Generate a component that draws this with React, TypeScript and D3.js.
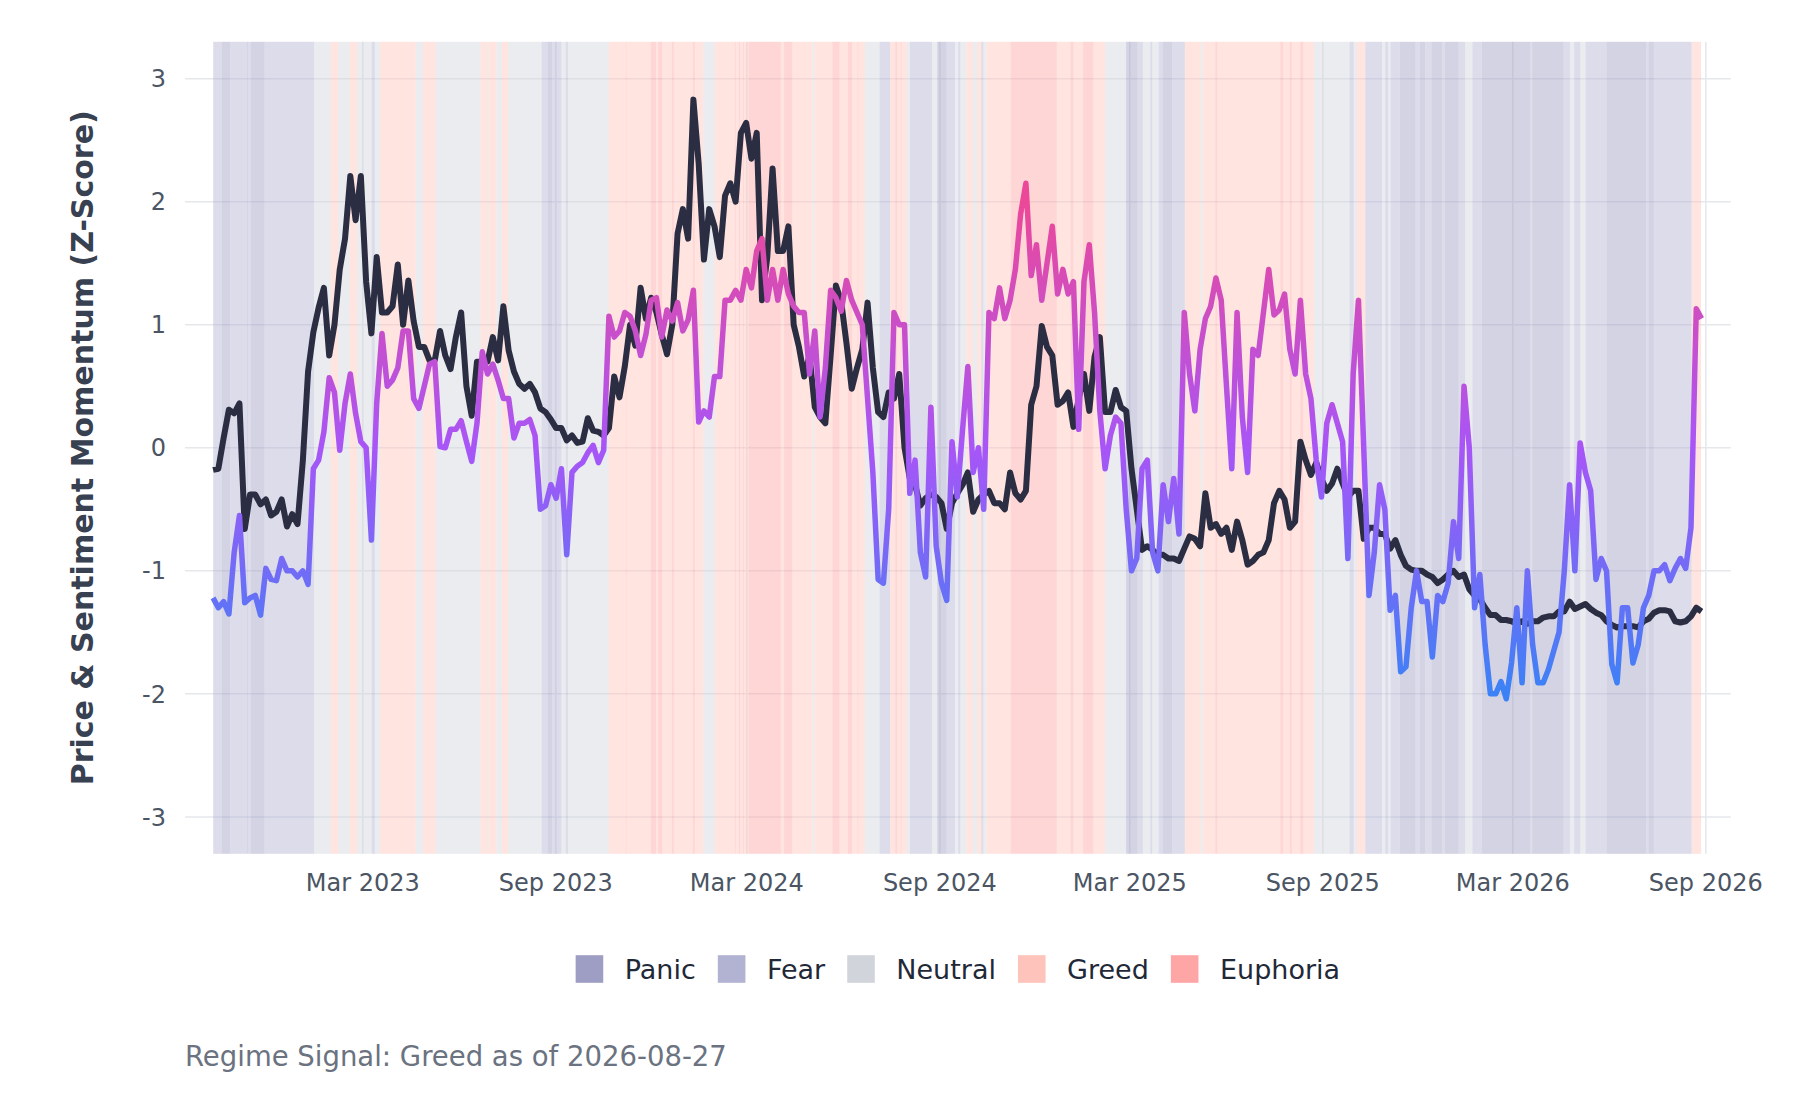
import React, { useEffect } from 'react'
import * as d3 from 'd3'

// Canvas and plot frame
const WIDTH = 1800
const HEIGHT = 1100
const margin = { left: 185, right: 69.3, top: 41.8, bottom: 246.2 }

// Daily samples were read roughly every 5 days between these two dates
const SERIES_START = new Date(2022, 9, 9, 8)
const SERIES_END = new Date(2026, 7, 27, 22)

const priceMomentum = [
  -0.18, -0.17, 0.08, 0.31, 0.28, 0.36, -0.66, -0.38, -0.38, -0.46,
  -0.42, -0.55, -0.52, -0.42, -0.64, -0.54, -0.62, -0.11, 0.62, 0.94,
  1.14, 1.3, 0.75, 1.0, 1.45, 1.7, 2.21, 1.85, 2.21, 1.35,
  0.93, 1.55, 1.1, 1.1, 1.15, 1.49, 1.0, 1.36, 1.03, 0.82,
  0.82, 0.71, 0.71, 0.95, 0.75, 0.64, 0.9, 1.1, 0.5, 0.26,
  0.7, 0.7, 0.7, 0.9, 0.71, 1.15, 0.79, 0.62, 0.52, 0.48,
  0.52, 0.45, 0.32, 0.29, 0.23, 0.16, 0.16, 0.06, 0.1, 0.04,
  0.05, 0.24, 0.14, 0.13, 0.1, 0.16, 0.58, 0.41, 0.66, 1.0,
  0.83, 1.3, 1.05, 1.22, 1.1, 0.92, 0.76, 1.0, 1.74, 1.94,
  1.7, 2.83, 2.31, 1.53, 1.94, 1.8, 1.55, 2.05, 2.15, 2.0,
  2.56, 2.64, 2.35, 2.56, 1.2, 1.55, 2.27, 1.6, 1.6, 1.8,
  1.0, 0.82, 0.58, 0.75, 0.33, 0.25, 0.2, 0.75, 1.32, 1.19,
  0.85, 0.48, 0.65, 0.8, 1.18, 0.65, 0.29, 0.25, 0.45, 0.4,
  0.6, 0.0, -0.25, -0.3, -0.47, -0.41, -0.38, -0.4, -0.45, -0.66,
  -0.45, -0.37, -0.3, -0.2, -0.52, -0.42, -0.38, -0.35, -0.45, -0.45,
  -0.5, -0.2, -0.37, -0.42, -0.35, 0.35, 0.5, 0.99, 0.82, 0.75,
  0.35, 0.38, 0.45, 0.17, 0.4, 0.6, 0.3, 0.74, 0.9, 0.29,
  0.29, 0.47, 0.33, 0.3, -0.17, -0.5, -0.83, -0.8, -0.83, -0.87,
  -0.87, -0.9, -0.9, -0.92, -0.82, -0.72, -0.74, -0.8, -0.37, -0.65,
  -0.62, -0.7, -0.65, -0.83, -0.6, -0.75, -0.95, -0.92, -0.87, -0.85,
  -0.75, -0.45, -0.35, -0.42, -0.65, -0.6, 0.05, -0.1, -0.22, -0.12,
  -0.25, -0.35, -0.29, -0.17, -0.29, -0.4, -0.35, -0.35, -0.74, -0.65,
  -0.65, -0.7, -0.7, -0.82, -0.75, -0.87, -0.96, -0.99, -1.0, -1.0,
  -1.03, -1.05, -1.1, -1.07, -1.03, -1.0, -1.05, -1.03, -1.15, -1.2,
  -1.23, -1.3, -1.36, -1.36, -1.4, -1.4, -1.41, -1.43, -1.41, -1.43,
  -1.41, -1.41, -1.38, -1.37, -1.37, -1.33, -1.33, -1.25, -1.31, -1.29,
  -1.27, -1.31, -1.34, -1.36, -1.41, -1.44, -1.46, -1.45, -1.45, -1.45,
  -1.46, -1.41, -1.39, -1.34, -1.32, -1.32, -1.33, -1.41, -1.42, -1.41,
  -1.37, -1.3, -1.33,
]

const sentimentMomentum = [
  -1.22, -1.3, -1.25, -1.35, -0.85, -0.55, -1.26, -1.22, -1.2, -1.36,
  -0.98, -1.07, -1.08, -0.9, -1.0, -1.0, -1.05, -1.0, -1.11, -0.17,
  -0.1, 0.13, 0.57, 0.45, -0.02, 0.36, 0.6, 0.28, 0.05, 0.0,
  -0.75, 0.36, 0.93, 0.5, 0.55, 0.65, 0.95, 0.95, 0.4, 0.32,
  0.5, 0.68, 0.7, 0.01, 0.0, 0.15, 0.15, 0.22, 0.05, -0.11,
  0.2, 0.78, 0.6, 0.68, 0.55, 0.4, 0.4, 0.08, 0.2, 0.2,
  0.23, 0.1, -0.5, -0.47, -0.3, -0.41, -0.17, -0.87, -0.2, -0.15,
  -0.12, -0.04, 0.02, -0.12, -0.02, 1.07, 0.9, 0.95, 1.1, 1.07,
  0.95, 0.75, 0.92, 1.2, 1.22, 0.9, 1.12, 1.03, 1.18, 0.95,
  1.04, 1.28, 0.21, 0.3, 0.25, 0.58, 0.58, 1.2, 1.2, 1.28,
  1.2, 1.45, 1.3, 1.6, 1.7, 1.2, 1.45, 1.2, 1.45, 1.25,
  1.15, 1.1, 1.1, 0.6, 0.95, 0.25, 0.65, 1.28, 1.22, 1.11,
  1.36, 1.2, 1.1, 1.0, 0.4, -0.2, -1.07, -1.1, -0.5, 1.1,
  1.0, 1.0, -0.37, -0.1, -0.85, -1.05, 0.33, -0.8, -1.1, -1.24,
  0.05, -0.4, 0.15, 0.66, -0.2, 0.0, -0.5, 1.1, 1.05, 1.3,
  1.05, 1.2, 1.45, 1.9, 2.15, 1.4, 1.65, 1.2, 1.5, 1.8,
  1.25, 1.45, 1.25, 1.35, 0.15, 1.35, 1.65, 1.1, 0.3, -0.17,
  0.1, 0.25, 0.2, -0.5, -1.0, -0.9, -0.17, -0.1, -0.85, -1.0,
  -0.3, -0.6, -0.25, -0.7, 1.1, 0.6, 0.3, 0.8, 1.05, 1.15,
  1.38, 1.2, 0.5, -0.17, 1.1, 0.25, -0.2, 0.8, 0.75, 1.1,
  1.45, 1.08, 1.12, 1.25, 0.8, 0.6, 1.2, 0.6, 0.4, -0.1,
  -0.4, 0.2, 0.35, 0.2, 0.05, -0.9, 0.6, 1.2, 0.0, -1.2,
  -0.85, -0.3, -0.5, -1.32, -1.2, -1.82, -1.78, -1.3, -1.0, -1.25,
  -1.25, -1.7, -1.2, -1.25, -1.1, -0.6, -0.9, 0.5, 0.0, -1.3,
  -1.03, -1.6, -2.0, -2.0, -1.9, -2.04, -1.75, -1.3, -1.91, -1.0,
  -1.6, -1.91, -1.91, -1.8, -1.65, -1.5, -1.0, -0.3, -1.0, 0.04,
  -0.2, -0.35, -1.07, -0.9, -1.0, -1.76, -1.91, -1.3, -1.3, -1.75,
  -1.6, -1.3, -1.2, -1.0, -1.0, -0.95, -1.08, -0.98, -0.9, -0.98,
  -0.65, 1.13, 1.05,
]

// Regimes: legend colours, shaded behind the lines at reduced opacity
const REGIME_NAMES = ['Panic', 'Fear', 'Neutral', 'Greed', 'Euphoria']
const REGIME_COLORS = ['#9e9ec4', '#b2b2d2', '#d1d5db', '#fec3ba', '#fea5a5']
const REGIME_START = new Date(2022, 9, 9, 12)
// [regime index, length in days]
const regimeRuns: [number, number][] = [
  [1, 8], [0, 8], [1, 16], [0, 1], [1, 3], [0, 13], [1, 47], [2, 16], [3, 7], [2, 11],
  [3, 7], [2, 14], [1, 3], [2, 5], [3, 34], [2, 7], [3, 12], [2, 43], [3, 6], [2, 1],
  [3, 8], [2, 5], [3, 6], [2, 32], [1, 6], [0, 4], [1, 9], [2, 4], [1, 2], [2, 39],
  [3, 16], [4, 1], [3, 23], [4, 5], [3, 2], [4, 4], [3, 9], [4, 2], [3, 18], [4, 2],
  [3, 8], [2, 11], [3, 19], [4, 1], [3, 3], [4, 1], [3, 3], [4, 1], [3, 4], [4, 31],
  [3, 3], [4, 8], [3, 19], [2, 2], [3, 17], [4, 7], [3, 8], [4, 4], [3, 5], [4, 1],
  [3, 6], [2, 14], [1, 10], [3, 5], [4, 2], [3, 3], [4, 1], [3, 5], [2, 3], [1, 21],
  [2, 5], [0, 9], [1, 8], [2, 3], [1, 2], [2, 6], [3, 6], [2, 4], [3, 4], [1, 2],
  [2, 3], [3, 23], [4, 44], [3, 13], [4, 3], [3, 9], [4, 10], [3, 11], [2, 20], [0, 11],
  [1, 5], [2, 7], [1, 2], [2, 6], [1, 4], [0, 9], [1, 12], [3, 15], [2, 2], [3, 12],
  [4, 2], [3, 60], [4, 3], [3, 6], [4, 2], [3, 8], [4, 3], [3, 10], [2, 34], [1, 4],
  [2, 3], [3, 8], [1, 16], [2, 3], [1, 3], [2, 2], [1, 9], [0, 15], [1, 4], [0, 5],
  [1, 6], [0, 10], [1, 3], [0, 13], [1, 6], [2, 7], [1, 9], [0, 46], [1, 2], [0, 30],
  [1, 6], [2, 4], [1, 6], [2, 5], [1, 20], [0, 38], [1, 2], [0, 5], [1, 36], [3, 9],
]

const Y_TICKS = [-3, -2, -1, 0, 1, 2, 3]
const X_DOMAIN: [Date, Date] = [new Date(2022, 8, 12, 14), new Date(2026, 8, 24, 17)]
const X_TICKS = d3.timeMonth.range(new Date(2023, 2, 1), new Date(2026, 9, 1), 6)

const FONT = "'DejaVu Sans', sans-serif"
const FOOTER_TEXT = 'Regime Signal: Greed as of 2026-08-27'

const measureText = (text: string, font: string) => {
  const ctx = document.createElement('canvas').getContext('2d')
  if (!ctx) return text.length * 15
  ctx.font = font
  return ctx.measureText(text).width
}

const App: React.FC = () => {
  useEffect(() => {
    document.body.style.margin = '0'
  }, [])

  const innerRight = WIDTH - margin.right
  const innerBottom = HEIGHT - margin.bottom

  const x = d3.scaleTime().domain(X_DOMAIN).range([margin.left, innerRight])
  const y = d3.scaleLinear().domain([-3.3, 3.3]).range([innerBottom, margin.top])

  const n = priceMomentum.length
  const span = SERIES_END.getTime() - SERIES_START.getTime()
  const dates = d3.range(n).map((i) => new Date(SERIES_START.getTime() + (i * span) / (n - 1)))

  const line = d3
    .line<number>()
    .x((_, i) => x(dates[i]))
    .y((d) => y(d))

  // Regime rectangles from run lengths
  let cursor = REGIME_START
  const regimeRects = regimeRuns.map(([regime, days]) => {
    const start = cursor
    const end = d3.timeDay.offset(start, days)
    cursor = end
    return { regime, start, end }
  })

  // Legend, centred under the plot
  const legendFont = `27px ${FONT}`
  const box = 27.6
  const boxGap = 21.5
  const itemGap = 22
  const widths = REGIME_NAMES.map((name) => box + boxGap + measureText(name, legendFont))
  const legendTotal = d3.sum(widths) + itemGap * (widths.length - 1)
  let lx = (margin.left + innerRight) / 2 - legendTotal / 2
  const legendItems = REGIME_NAMES.map((name, i) => {
    const item = { name, color: REGIME_COLORS[i], x: lx }
    lx += widths[i] + itemGap
    return item
  })
  const legendY = 969

  return (
    <div style={{ position: 'absolute', left: 0, top: 0 }}>
      <svg width={WIDTH} height={HEIGHT} style={{ display: 'block', background: '#ffffff', fontFamily: FONT }}>
        <defs>
          <linearGradient
            id="sentimentGradient"
            gradientUnits="userSpaceOnUse"
            x1={0}
            x2={0}
            y1={y(-2)}
            y2={y(2)}
          >
            <stop offset="0%" stopColor="#3b82f6" />
            <stop offset="50%" stopColor="#a855f7" />
            <stop offset="100%" stopColor="#ec4899" />
          </linearGradient>
        </defs>

        {/* grid */}
        <g stroke="#e5e7eb" strokeWidth={1.5}>
          {Y_TICKS.map((t) => (
            <line key={`gy${t}`} x1={margin.left} x2={innerRight} y1={y(t)} y2={y(t)} />
          ))}
          {X_TICKS.map((t) => (
            <line key={`gx${+t}`} x1={x(t)} x2={x(t)} y1={margin.top} y2={innerBottom} />
          ))}
        </g>

        {/* regime shading */}
        <g fillOpacity={0.45}>
          {regimeRects.map((r, i) => (
            <rect
              key={i}
              x={x(r.start)}
              y={margin.top}
              width={x(r.end) - x(r.start)}
              height={innerBottom - margin.top}
              fill={REGIME_COLORS[r.regime]}
            />
          ))}
        </g>

        {/* series */}
        <path
          d={line(priceMomentum) || ''}
          fill="none"
          stroke="#2b2d42"
          strokeWidth={6}
          strokeLinejoin="round"
        />
        <path
          d={line(sentimentMomentum) || ''}
          fill="none"
          stroke="url(#sentimentGradient)"
          strokeWidth={5.5}
          strokeLinejoin="round"
        />

        {/* y axis */}
        <g fontSize={24} fill="#4b5563" textAnchor="end">
          {Y_TICKS.map((t) => (
            <text key={`ty${t}`} x={166} y={y(t)} dy="0.36em">
              {t}
            </text>
          ))}
        </g>
        <text
          transform={`translate(82,${(margin.top + innerBottom) / 2}) rotate(-90)`}
          textAnchor="middle"
          dy="0.36em"
          fontSize={30}
          fontWeight="bold"
          fill="#374151"
        >
          Price &amp; Sentiment Momentum (Z-Score)
        </text>

        {/* x axis */}
        <g fontSize={24} fill="#4b5563" textAnchor="middle">
          {X_TICKS.map((t) => (
            <text key={`tx${+t}`} x={x(t)} y={891}>
              {d3.timeFormat('%b %Y')(t)}
            </text>
          ))}
        </g>

        {/* legend */}
        <g fontSize={27} fill="#1f2937">
          {legendItems.map((it) => (
            <g key={it.name}>
              <rect x={it.x} y={legendY - box / 2} width={box} height={box} fill={it.color} />
              <text x={it.x + box + boxGap} y={legendY} dy="0.36em">
                {it.name}
              </text>
            </g>
          ))}
        </g>

        <text x={185} y={1066} fontSize={27.5} fill="#6b7280">
          {FOOTER_TEXT}
        </text>
      </svg>
    </div>
  )
}

export default App
